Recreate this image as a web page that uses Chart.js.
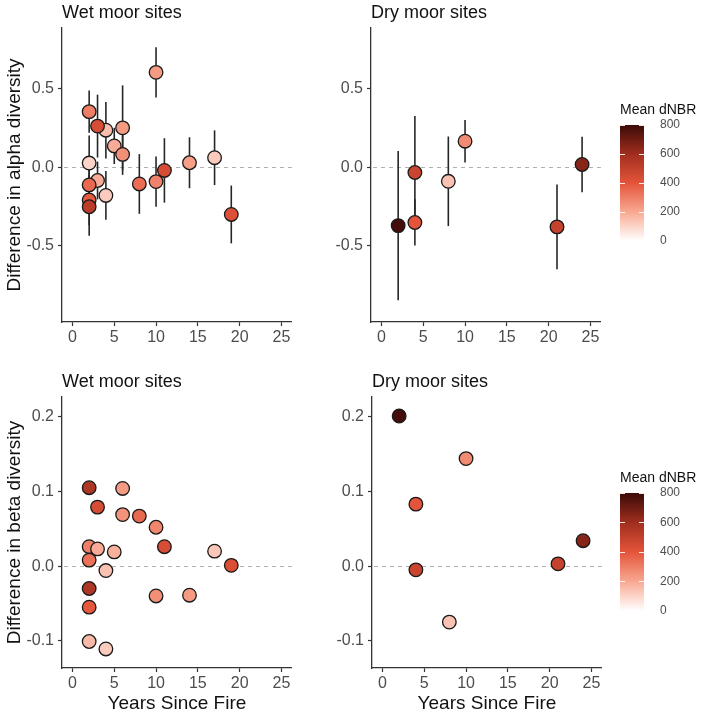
<!DOCTYPE html>
<html><head><meta charset="utf-8">
<script src="https://cdn.jsdelivr.net/npm/chart.js@4.4.1/dist/chart.umd.min.js"></script>
<style>
html,body{margin:0;padding:0;background:#fff;}
#wrap{position:relative;width:709px;height:713px;overflow:hidden;background:#fff;}
canvas{position:absolute;}
</style></head><body>
<div id="wrap">
<canvas id="tl" width="300" height="350" style="left:0px;top:0px"></canvas>
<canvas id="tr" width="300" height="350" style="left:309px;top:0px"></canvas>
<canvas id="bl" width="300" height="353" style="left:0px;top:360px"></canvas>
<canvas id="br" width="300" height="353" style="left:310px;top:360px"></canvas>
<canvas id="cb1" width="89" height="161" style="left:620px;top:95px"></canvas>
<canvas id="cb2" width="89" height="163" style="left:620px;top:463px"></canvas>
</div>
<script>
// ---------- tick labels ----------
const xTickValues = [0, 5, 10, 15, 20, 25];
const alphaTickValues = [-0.5, 0.0, 0.5];
const betaTickValues = [-0.1, 0.0, 0.1, 0.2];
const dnbrTickValues = [0, 200, 400, 600, 800];

// ---------- Wet moor sites: alpha diversity ----------
const wetAlphaYears = [4, 3, 2, 5, 6, 6, 2, 3, 2, 4, 2, 2, 10, 8, 10, 11, 14, 17, 19];
const wetAlphaDiff  = [0.235, 0.261, 0.353, 0.135, 0.25, 0.081, 0.026, -0.085, -0.113, -0.18, -0.209, -0.252, 0.603, -0.107, -0.092, -0.021, 0.028, 0.06, -0.301];
const wetAlphaErr   = [0.18, 0.2, 0.135, 0.115, 0.27, 0.13, 0.175, 0.12, 0.17, 0.155, 0.16, 0.185, 0.16, 0.19, 0.16, 0.205, 0.162, 0.174, 0.184];
const wetAlphaDnbr  = [150, 440, 300, 190, 230, 260, 100, 190, 350, 120, 380, 520, 230, 340, 290, 440, 220, 120, 420];

// ---------- Dry moor sites: alpha diversity ----------
const dryAlphaYears = [2, 4, 4, 8, 10, 21, 24];
const dryAlphaDiff  = [-0.372, -0.034, -0.352, -0.09, 0.165, -0.38, 0.017];
const dryAlphaErr   = [0.475, 0.36, 0.147, 0.285, 0.135, 0.27, 0.177];
const dryAlphaDnbr  = [780, 480, 400, 140, 270, 490, 650];

// ---------- Wet moor sites: beta diversity ----------
const wetBetaYears = [2, 3, 6, 6, 8, 10, 11, 2, 3, 5, 2, 4, 17, 19, 2, 2, 10, 14, 2, 4];
const wetBetaDiff  = [0.105, 0.079, 0.104, 0.069, 0.067, 0.052, 0.026, 0.026, 0.023, 0.019, 0.008, -0.006, 0.02, 0.001, -0.03, -0.055, -0.04, -0.039, -0.101, -0.111];
const wetBetaDnbr  = [560, 440, 230, 250, 350, 280, 440, 300, 190, 180, 330, 140, 130, 430, 560, 390, 260, 230, 160, 120];

// ---------- Dry moor sites: beta diversity ----------
const dryBetaYears = [2, 10, 4, 4, 8, 24, 21];
const dryBetaDiff  = [0.201, 0.144, 0.083, -0.005, -0.075, 0.034, 0.003];
const dryBetaDnbr  = [780, 270, 400, 480, 140, 650, 490];

// ---------- styling ----------
const FONT = "'Liberation Sans', Arial, Helvetica, sans-serif";
const colourStops = [[0, [255, 255, 255]], [200, [248, 168, 145]], [400, [228, 84, 58]], [600, [160, 46, 30]], [800, [60, 10, 8]]];

function colourFor(v) {
  for (let i = 1; i < colourStops.length; i++) {
    const [v1, c1] = colourStops[i];
    const [v0, c0] = colourStops[i - 1];
    if (v <= v1 || i === colourStops.length - 1) {
      const t = Math.max(0, Math.min(1, (v - v0) / (v1 - v0)));
      const c = c0.map((a, k) => Math.round(a + (c1[k] - a) * t));
      return `rgb(${c[0]},${c[1]},${c[2]})`;
    }
  }
}

const zeroLine = {
  id: 'zeroLine',
  beforeDatasetsDraw(chart) {
    const {ctx, chartArea: a, scales: {y}} = chart;
    const py = Math.round(y.getPixelForValue(0)) + 0.5;
    ctx.save();
    ctx.strokeStyle = '#b0b0b0';
    ctx.lineWidth = 1;
    ctx.setLineDash([4, 4]);
    ctx.beginPath();
    ctx.moveTo(a.left + 2, py);
    ctx.lineTo(a.right, py);
    ctx.stroke();
    ctx.restore();
  }
};

const errorBars = {
  id: 'errorBars',
  beforeDatasetsDraw(chart) {
    const ds = chart.data.datasets[0];
    if (!ds.errors) return;
    const {ctx, scales: {x, y}} = chart;
    ctx.save();
    ctx.strokeStyle = '#262626';
    ctx.lineWidth = 1.6;
    ds.data.forEach((p, i) => {
      const e = ds.errors[i];
      const px = x.getPixelForValue(p.x);
      ctx.beginPath();
      ctx.moveTo(px, y.getPixelForValue(p.y - e));
      ctx.lineTo(px, y.getPixelForValue(p.y + e));
      ctx.stroke();
    });
    ctx.restore();
  }
};

function panel(id, cfg) {
  const points = cfg.years.map((x, i) => ({x: x, y: cfg.diff[i]}));
  return new Chart(document.getElementById(id), {
    type: 'scatter',
    data: {datasets: [{
      data: points,
      errors: cfg.err || null,
      backgroundColor: cfg.dnbr.map(colourFor),
      borderColor: '#1a1a1a',
      borderWidth: 1.3,
      pointRadius: 6.8,
      pointHoverRadius: 6.8
    }]},
    options: {
      responsive: false, animation: false, devicePixelRatio: 1,
      layout: {padding: {left: 0, right: cfg.padRight, top: cfg.padTop, bottom: 0}},
      plugins: {
        legend: {display: false}, tooltip: {enabled: false},
        title: {display: true, text: cfg.title, align: 'start', fullSize: false, color: '#111',
                font: {family: FONT, size: 18, weight: 'normal', lineHeight: 1.2}, padding: {top: 2, bottom: 4.4}}
      },
      scales: {
        x: {
          type: 'linear', min: -1.25, max: 26.25,
          afterBuildTicks: s => { s.ticks = xTickValues.map(v => ({value: v})); },
          afterFit: s => { s.height = cfg.xHeight; },
          grid: {drawOnChartArea: false, drawTicks: true, tickLength: 4, tickColor: '#333', tickWidth: 1.2},
          border: {color: '#333', width: 1.3},
          ticks: {color: '#4d4d4d', font: {family: FONT, size: 16}, padding: 2, maxRotation: 0, callback: v => String(v)},
          title: {display: !!cfg.xTitle, text: cfg.xTitle || '', color: '#111',
                  font: {family: FONT, size: 19, lineHeight: 1.1}, padding: {top: 0, bottom: -1}}
        },
        y: {
          type: 'linear', min: cfg.yMin, max: cfg.yMax,
          afterBuildTicks: s => { s.ticks = cfg.yTicks.map(v => ({value: v})); },
          afterFit: s => { s.width = 62; },
          grid: {drawOnChartArea: false, drawTicks: true, tickLength: 4, tickColor: '#333', tickWidth: 1.2},
          border: {color: '#333', width: 1.3},
          ticks: {color: '#4d4d4d', font: {family: FONT, size: 16}, padding: 4, callback: v => v.toFixed(1)},
          title: {display: !!cfg.yTitle, text: cfg.yTitle || '', color: '#111',
                  font: {family: FONT, size: 19, lineHeight: 1.2}, padding: {top: 3, bottom: 0}}
        }
      }
    },
    plugins: [zeroLine, errorBars]
  });
}

const cbTicks = {
  id: 'cbTicks',
  afterDatasetsDraw(chart) {
    const {ctx, chartArea: a, scales: {y}} = chart;
    ctx.save();
    ctx.strokeStyle = 'rgba(255,255,255,0.9)';
    ctx.lineWidth = 1;
    dnbrTickValues.forEach(v => {
      const py = Math.round(y.getPixelForValue(v)) + 0.5;
      ctx.beginPath();
      ctx.moveTo(a.left, py); ctx.lineTo(a.left + 5, py);
      ctx.moveTo(a.right - 5, py); ctx.lineTo(a.right, py);
      ctx.stroke();
    });
    ctx.restore();
  }
};

function colourbar(id) {
  const lo = dnbrTickValues[0], hi = dnbrTickValues[dnbrTickValues.length - 1];
  new Chart(document.getElementById(id), {
    type: 'bar',
    data: {labels: ['Mean dNBR'], datasets: [{
      data: [[lo, hi]],
      backgroundColor: ctx => {
        const ch = ctx.chart;
        if (!ch.chartArea) return colourFor(400);
        const y = ch.scales.y;
        const g = ch.ctx.createLinearGradient(0, y.getPixelForValue(lo), 0, y.getPixelForValue(hi));
        for (let v = lo; v <= hi; v += 50) g.addColorStop((v - lo) / (hi - lo), colourFor(v));
        return g;
      },
      borderWidth: 0, barPercentage: 1, categoryPercentage: 1
    }]},
    options: {
      responsive: false, animation: false, devicePixelRatio: 1,
      layout: {padding: {left: 0, right: 0, top: 0, bottom: 10}},
      plugins: {
        legend: {display: false}, tooltip: {enabled: false},
        title: {display: true, text: 'Mean dNBR', align: 'start', color: '#111',
                font: {family: FONT, size: 14, weight: 'normal', lineHeight: 1.2}, padding: {top: 6.6, bottom: 6.6}}
      },
      scales: {
        x: {display: false},
        y: {
          position: 'right', min: lo, max: hi,
          afterBuildTicks: s => { s.ticks = dnbrTickValues.map(v => ({value: v})); },
          afterFit: s => { s.width = 65; },
          grid: {display: false}, border: {display: false},
          ticks: {color: '#4d4d4d', font: {family: FONT, size: 12}, padding: 8}
        }
      }
    },
    plugins: [cbTicks]
  });
}

panel('tl', {years: wetAlphaYears, diff: wetAlphaDiff, err: wetAlphaErr, dnbr: wetAlphaDnbr,
  title: 'Wet moor sites', yTitle: 'Difference in alpha diversity', yMin: -0.985, yMax: 0.885, yTicks: alphaTickValues,
  padTop: 0, padRight: 4, xHeight: 28});
panel('tr', {years: dryAlphaYears, diff: dryAlphaDiff, err: dryAlphaErr, dnbr: dryAlphaDnbr,
  title: 'Dry moor sites', yMin: -0.985, yMax: 0.885, yTicks: alphaTickValues,
  padTop: 0, padRight: 5, xHeight: 28});
panel('bl', {years: wetBetaYears, diff: wetBetaDiff, dnbr: wetBetaDnbr,
  title: 'Wet moor sites', yTitle: 'Difference in beta diversity', xTitle: 'Years Since Fire', yMin: -0.1365, yMax: 0.2265, yTicks: betaTickValues,
  padTop: 9, padRight: 4, xHeight: 45});
panel('br', {years: dryBetaYears, diff: dryBetaDiff, dnbr: dryBetaDnbr,
  title: 'Dry moor sites', xTitle: 'Years Since Fire', yMin: -0.1365, yMax: 0.2265, yTicks: betaTickValues,
  padTop: 9, padRight: 5, xHeight: 45});
colourbar('cb1');
colourbar('cb2');
</script>
</body></html>
